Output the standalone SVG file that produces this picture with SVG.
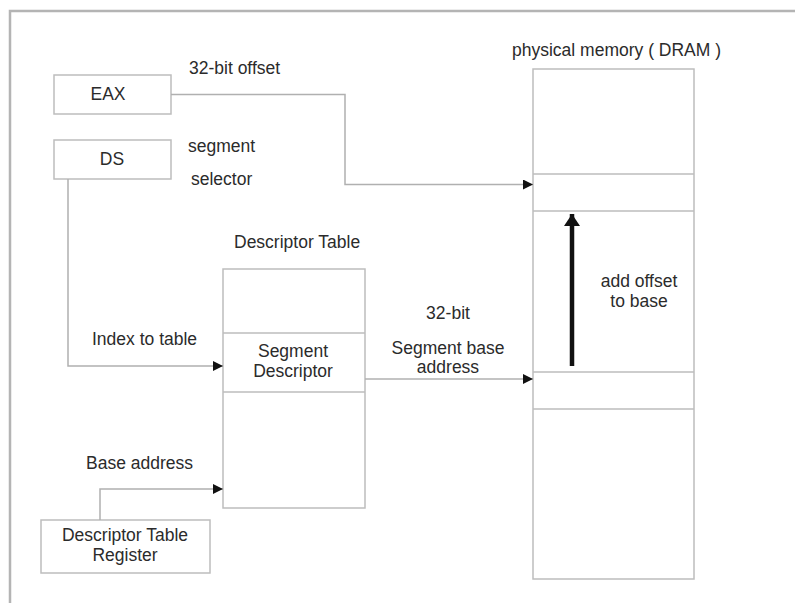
<svg xmlns="http://www.w3.org/2000/svg" width="795" height="603" viewBox="0 0 795 603">
  <style>
    text { font-family: "Liberation Sans", Arial, sans-serif; font-size: 17.5px; fill: #2b2b2b; }
    .mid { text-anchor: middle; }
    .box { fill: #ffffff; stroke: #bdbdbd; stroke-width: 1.5; }
    .div { stroke: #bdbdbd; stroke-width: 1.5; fill: none; }
    .wire { fill: none; stroke: #b0b0b0; stroke-width: 1.5; }
    .frame { fill: none; stroke: #b4b4b4; stroke-width: 2.5; }
  </style>
  <defs>
    <marker id="tip" markerUnits="userSpaceOnUse" markerWidth="11" markerHeight="10" refX="10" refY="5" orient="auto">
      <path d="M0,0 L10,5 L0,10 Z" fill="#111"/>
    </marker>
    <marker id="bigtip" markerUnits="userSpaceOnUse" markerWidth="14" markerHeight="16" refX="12" refY="8" orient="auto">
      <path d="M0,0 L12,8 L0,16 Z" fill="#111"/>
    </marker>
  </defs>

  <rect width="795" height="603" fill="#ffffff"/>
  <!-- page frame -->
  <path class="frame" d="M10,603 V11 H795"/>

  <!-- register EAX -->
  <g id="eax">
    <rect class="box" x="54" y="75" width="117" height="39"/>
    <text class="mid" x="108" y="100">EAX</text>
    <text x="189" y="74">32-bit offset</text>
  </g>

  <!-- register DS -->
  <g id="ds">
    <rect class="box" x="54" y="140" width="117" height="39"/>
    <text class="mid" x="112" y="165">DS</text>
    <text x="188" y="152">segment</text>
    <text x="191" y="185">selector</text>
  </g>

  <!-- descriptor table -->
  <g id="descriptor-table">
    <text x="234" y="248">Descriptor Table</text>
    <rect class="box" x="223" y="269" width="142" height="239"/>
    <path class="div" d="M223,333 H365 M223,392 H365"/>
    <text class="mid" x="293" y="357">Segment</text>
    <text class="mid" x="293" y="377">Descriptor</text>
  </g>

  <text x="92" y="345">Index to table</text>
  <text class="mid" x="448" y="319">32-bit</text>
  <text class="mid" x="448" y="354">Segment base</text>
  <text class="mid" x="448" y="373">address</text>
  <text x="86" y="469">Base address</text>

  <!-- descriptor table register -->
  <g id="dtr">
    <rect class="box" x="41" y="520" width="169" height="53"/>
    <text class="mid" x="125" y="541">Descriptor Table</text>
    <text class="mid" x="125" y="561">Register</text>
  </g>

  <!-- physical memory -->
  <g id="memory">
    <text x="512" y="56">physical memory ( DRAM )</text>
    <rect class="box" x="533" y="69" width="161" height="510"/>
    <path class="div" d="M533,174 H694 M533,211 H694 M533,372 H694 M533,409 H694"/>
    <text class="mid" x="639" y="287">add offset</text>
    <text class="mid" x="639" y="307">to base</text>
  </g>

  <!-- connectors, drawn over the boxes -->
  <g id="connectors">
    <path class="wire" d="M171,94.5 H345 V184.5 H533" marker-end="url(#tip)"/>
    <path class="wire" d="M68,179 V366 H223" marker-end="url(#tip)"/>
    <path class="wire" d="M365,379 H533" marker-end="url(#tip)"/>
    <path class="wire" d="M100,520 V489 H223" marker-end="url(#tip)"/>
    <path d="M572,366 V214" fill="none" stroke="#111" stroke-width="4.5" marker-end="url(#bigtip)"/>
  </g>
</svg>
